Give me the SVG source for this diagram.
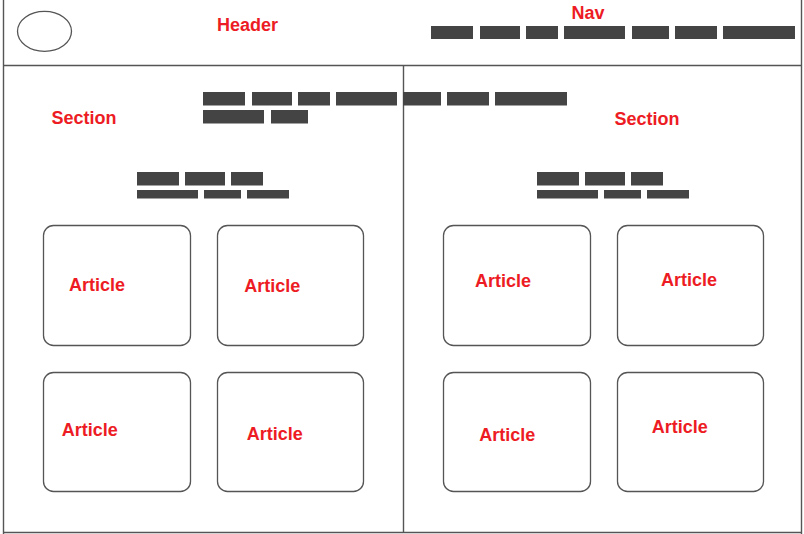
<svg xmlns="http://www.w3.org/2000/svg" width="804" height="534" viewBox="0 0 804 534">
<style>
.line{stroke:#555;stroke-width:1.4;fill:none}
.box{fill:#fff;stroke:#555;stroke-width:1.3}
.bar{fill:#444}
.lbl{font-family:"Liberation Sans",Arial,sans-serif;font-weight:bold;font-size:18px;fill:#ED1C24}
</style>
<rect width="804" height="534" fill="#fff"/>
<g id="frame">
<line class="line" x1="3.5" y1="0" x2="3.5" y2="534"/>
<line class="line" x1="801.5" y1="0" x2="801.5" y2="534"/>
<line class="line" x1="3" y1="65.5" x2="802" y2="65.5"/>
<line class="line" x1="3" y1="532.5" x2="802" y2="532.5"/>
<line class="line" x1="403.5" y1="66" x2="403.5" y2="532"/>
</g>
<g id="header">
<ellipse class="box" cx="44.5" cy="31.3" rx="27" ry="20"/>
<text class="lbl" x="217" y="30.7">Header</text>
</g>
<g id="nav">
<text class="lbl" x="571.5" y="19.3">Nav</text>
<rect class="bar" x="431" y="26" width="42" height="13"/>
<rect class="bar" x="480" y="26" width="40" height="13"/>
<rect class="bar" x="526" y="26" width="32" height="13"/>
<rect class="bar" x="564" y="26" width="61" height="13"/>
<rect class="bar" x="632" y="26" width="37" height="13"/>
<rect class="bar" x="675" y="26" width="42" height="13"/>
<rect class="bar" x="723" y="26" width="72" height="13"/>
</g>
<g id="section-bars">
<rect class="bar" x="203" y="92" width="42" height="13.5"/>
<rect class="bar" x="252" y="92" width="40" height="13.5"/>
<rect class="bar" x="298" y="92" width="32" height="13.5"/>
<rect class="bar" x="336" y="92" width="61" height="13.5"/>
<rect class="bar" x="403" y="92" width="38" height="13.5"/>
<rect class="bar" x="447" y="92" width="42" height="13.5"/>
<rect class="bar" x="495" y="92" width="72" height="13.5"/>
<rect class="bar" x="203" y="110" width="61" height="13.5"/>
<rect class="bar" x="271" y="110" width="37" height="13.5"/>
</g>
<g id="section-left">
<text class="lbl" x="51.5" y="124.3">Section</text>
<rect class="bar" x="137" y="172" width="42" height="13.5"/>
<rect class="bar" x="185" y="172" width="40" height="13.5"/>
<rect class="bar" x="231" y="172" width="32" height="13.5"/>
<rect class="bar" x="137" y="190" width="61" height="8.5"/>
<rect class="bar" x="204" y="190" width="37" height="8.5"/>
<rect class="bar" x="247" y="190" width="42" height="8.5"/>
</g>
<g id="section-right">
<text class="lbl" x="614.5" y="125.3">Section</text>
<rect class="bar" x="537" y="172" width="42" height="13.5"/>
<rect class="bar" x="585" y="172" width="40" height="13.5"/>
<rect class="bar" x="631" y="172" width="32" height="13.5"/>
<rect class="bar" x="537" y="190" width="61" height="8.5"/>
<rect class="bar" x="604" y="190" width="37" height="8.5"/>
<rect class="bar" x="647" y="190" width="42" height="8.5"/>
</g>
<g id="article1"><rect class="box" x="43.5" y="225.5" width="147" height="120" rx="10"/><text class="lbl" x="69" y="290.7">Article</text></g>
<g id="article2"><rect class="box" x="217.5" y="225.5" width="146" height="120" rx="10"/><text class="lbl" x="244.3" y="291.7">Article</text></g>
<g id="article3"><rect class="box" x="443.5" y="225.5" width="147" height="120" rx="10"/><text class="lbl" x="475" y="286.7">Article</text></g>
<g id="article4"><rect class="box" x="617.5" y="225.5" width="146" height="120" rx="10"/><text class="lbl" x="661" y="285.7">Article</text></g>
<g id="article5"><rect class="box" x="43.5" y="372.5" width="147" height="119" rx="10"/><text class="lbl" x="61.7" y="436">Article</text></g>
<g id="article6"><rect class="box" x="217.5" y="372.5" width="146" height="119" rx="10"/><text class="lbl" x="246.7" y="440">Article</text></g>
<g id="article7"><rect class="box" x="443.5" y="372.5" width="147" height="119" rx="10"/><text class="lbl" x="479.3" y="441">Article</text></g>
<g id="article8"><rect class="box" x="617.5" y="372.5" width="146" height="119" rx="10"/><text class="lbl" x="651.7" y="432.7">Article</text></g>
</svg>
